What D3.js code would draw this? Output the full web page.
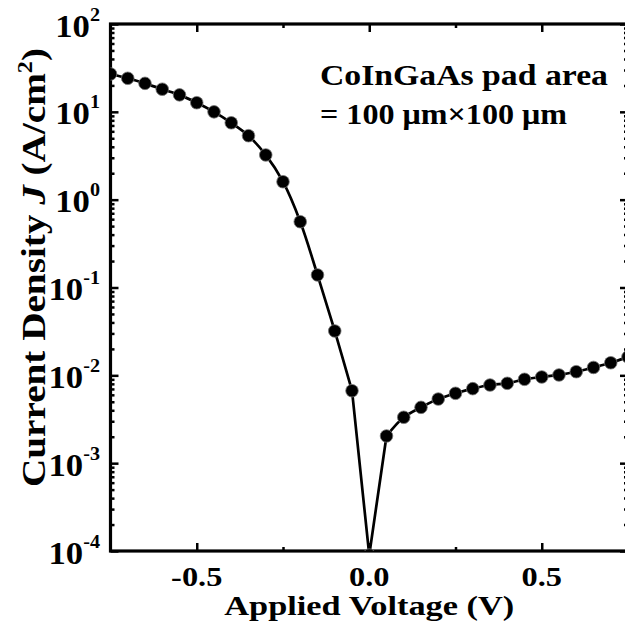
<!DOCTYPE html>
<html>
<head>
<meta charset="utf-8">
<script src="https://cdn.jsdelivr.net/npm/d3@7"></script>
<style>
  html, body { margin: 0; padding: 0; background: #fff; }
  svg { display: block; }
  text { font-family: "Liberation Serif", "Times New Roman", serif; font-weight: bold; fill: #000; }
</style>
</head>
<body>
<svg id="chart" width="625" height="628"></svg>
<script>
// ---- data ----
const voltage = [-0.75, -0.70, -0.65, -0.60, -0.55, -0.50, -0.45, -0.40, -0.35, -0.30,
                 -0.25, -0.20, -0.15, -0.10, -0.05, 0.00,
                  0.05, 0.10, 0.15, 0.20, 0.25, 0.30, 0.35, 0.40, 0.45, 0.50,
                  0.55, 0.60, 0.65, 0.70, 0.75];
const currentDensity = [27.0, 24.1, 21.1, 18.1, 15.6, 12.7, 10.0, 7.5, 5.35, 3.23,
                        1.60, 0.561, 0.139, 0.032, 0.00668, 0.00009,
                        0.00204, 0.00333, 0.00432, 0.00537, 0.00624, 0.00705, 0.00776, 0.00811, 0.00901, 0.00958,
                        0.0101, 0.0110, 0.0123, 0.0139, 0.0162];
const xMajorTicks = [-0.5, 0.0, 0.5];
const xMajorLabels = ["-0.5", "0.0", "0.5"];
const xMinorTicks = [-0.25, 0.25];
const yMajorTicks = [1e-4, 1e-3, 1e-2, 1e-1, 1e0, 1e1, 1e2];
const yTickExponents = ["-4", "-3", "-2", "-1", "0", "1", "2"];
const xTitle = "Applied Voltage (V)";
const annotationLines = ["CoInGaAs pad area", "= 100 \u03BCm\u00D7100 \u03BCm"];

// ---- layout ----
const svg = d3.select("#chart");
const L = 110.5, R = 628, T = 24, B = 551;
const x = d3.scaleLinear().domain([-0.75, 0.75]).range([L, R]);
const y = d3.scaleLog().domain([1e-4, 1e2]).range([B, T]);

const yMinorTicks = [];
for (let e = -4; e < 2; e++) for (let k = 2; k <= 9; k++) yMinorTicks.push(k * Math.pow(10, e));

svg.append("defs").append("clipPath").attr("id", "plotClip")
  .append("rect").attr("x", L).attr("y", T).attr("width", R - L).attr("height", B - T);

// ---- axes ticks (inward) ----
function styleAxis(g) {
  g.select(".domain").remove();
  g.selectAll(".tick line").attr("stroke", "#000").attr("stroke-width", 2.5);
  g.selectAll(".tick text").remove();
}
const major = 8, minor = 4;
svg.append("g").attr("transform", `translate(0,${B})`)
  .call(d3.axisBottom(x).tickValues(xMajorTicks).tickSize(-major).tickFormat("")).call(styleAxis);
svg.append("g").attr("transform", `translate(0,${B})`)
  .call(d3.axisBottom(x).tickValues(xMinorTicks).tickSize(-minor).tickFormat("")).call(styleAxis);
svg.append("g").attr("transform", `translate(0,${T})`)
  .call(d3.axisTop(x).tickValues(xMajorTicks).tickSize(-major).tickFormat("")).call(styleAxis);
svg.append("g").attr("transform", `translate(0,${T})`)
  .call(d3.axisTop(x).tickValues(xMinorTicks).tickSize(-minor).tickFormat("")).call(styleAxis);
svg.append("g").attr("transform", `translate(${L},0)`)
  .call(d3.axisLeft(y).tickValues(yMajorTicks).tickSize(-major).tickFormat("")).call(styleAxis);
svg.append("g").attr("transform", `translate(${L},0)`)
  .call(d3.axisLeft(y).tickValues(yMinorTicks).tickSize(-minor).tickFormat("")).call(styleAxis);
svg.append("g").attr("transform", `translate(${R},0)`)
  .call(d3.axisRight(y).tickValues(yMajorTicks).tickSize(-major).tickFormat("")).call(styleAxis);
svg.append("g").attr("transform", `translate(${R},0)`)
  .call(d3.axisRight(y).tickValues(yMinorTicks).tickSize(-minor).tickFormat("")).call(styleAxis);

// ---- frame ----
svg.append("rect").attr("x", L).attr("y", T).attr("width", R - L).attr("height", B - T)
  .attr("fill", "none").attr("stroke", "#000").attr("stroke-width", 3.2);

// ---- data line & markers ----
const pts = voltage.map((v, i) => ({ v, j: currentDensity[i] }));
const zeroIdx = voltage.indexOf(0);
const negSmooth = pts.slice(0, zeroIdx);          // -0.75 .. -0.05
const posSmooth = pts.slice(zeroIdx + 1);         //  0.05 .. 0.75
const vSegment = pts.slice(zeroIdx - 1, zeroIdx + 2); // -0.05, 0, 0.05 (straight)
const smooth = d3.line().x(d => x(d.v)).y(d => y(d.j)).curve(d3.curveCatmullRom.alpha(0.5));
const straight = d3.line().x(d => x(d.v)).y(d => y(d.j));
const plot = svg.append("g").attr("clip-path", "url(#plotClip)");
[[negSmooth, smooth], [posSmooth, smooth], [vSegment, straight]].forEach(([b, gen]) => {
  plot.append("path").datum(b).attr("d", gen)
    .attr("fill", "none").attr("stroke", "#000").attr("stroke-width", 2.7)
    .attr("stroke-linejoin", "miter");
});
plot.selectAll("circle").data(pts).join("circle")
  .attr("cx", d => x(d.v)).attr("cy", d => y(d.j)).attr("r", 6.3)
  .attr("fill", "#000").attr("stroke", "#777").attr("stroke-width", 0.8);

// ---- tick labels ----
svg.append("g").selectAll("text").data(xMajorTicks).join("text")
  .attr("transform", d => `translate(${x(d)},586) scale(1.2,1)`)
  .attr("text-anchor", "middle").attr("font-size", 27)
  .text((d, i) => xMajorLabels[i]);

const yl = svg.append("g").selectAll("text").data(yMajorTicks).join("text")
  .attr("transform", d => `translate(100,${y(d) + 12.5}) scale(1.12,1)`)
  .attr("text-anchor", "end").attr("font-size", 31);
yl.append("tspan").text("10");
yl.append("tspan").attr("dy", -16).attr("font-size", 18).text((d, i) => yTickExponents[i]);

// ---- axis titles ----
svg.append("text").attr("x", x(0)).attr("y", 615).attr("text-anchor", "middle")
  .attr("font-size", 28).attr("textLength", 290).attr("lengthAdjust", "spacingAndGlyphs")
  .text(xTitle);

const yt = svg.append("text").attr("transform", "translate(45,267.5) rotate(-90)")
  .attr("text-anchor", "middle").attr("font-size", 34)
  .attr("textLength", 439).attr("lengthAdjust", "spacingAndGlyphs");
yt.append("tspan").text("Current Density ");
yt.append("tspan").attr("font-style", "italic").text("J");
yt.append("tspan").text(" (A/cm");
yt.append("tspan").attr("dy", -13).attr("font-size", 21).text("2");
yt.append("tspan").attr("dy", 13).text(")");

// ---- annotation ----
svg.append("text").attr("x", 320).attr("y", 85).attr("font-size", 30)
  .attr("textLength", 288).attr("lengthAdjust", "spacingAndGlyphs").text(annotationLines[0]);
svg.append("text").attr("x", 320).attr("y", 124).attr("font-size", 30)
  .attr("textLength", 247).attr("lengthAdjust", "spacingAndGlyphs").text(annotationLines[1]);
</script>
</body>
</html>
